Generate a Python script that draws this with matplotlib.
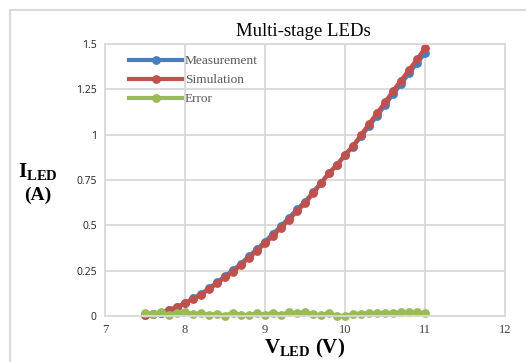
import matplotlib
matplotlib.use("Agg")
import matplotlib.pyplot as plt
from matplotlib.patches import Rectangle

plt.rcParams['mathtext.fontset'] = 'custom'
plt.rcParams['mathtext.rm'] = 'Liberation Serif'
plt.rcParams['mathtext.bf'] = 'Liberation Serif:bold'

voltage = [7.5, 7.6, 7.7, 7.8, 7.9, 8.0, 8.1, 8.2, 8.3, 8.4, 8.5, 8.6,
           8.7, 8.8, 8.9, 9.0, 9.1, 9.2, 9.3, 9.4, 9.5, 9.6, 9.7, 9.8,
           9.9, 10.0, 10.1, 10.2, 10.3, 10.4, 10.5, 10.6, 10.7, 10.8, 10.9, 11.0]

simulation = [0.006, 0.011, 0.018, 0.033, 0.048, 0.070, 0.094, 0.118, 0.147, 0.180,
              0.213, 0.244, 0.281, 0.322, 0.360, 0.400, 0.443, 0.487, 0.531, 0.579,
              0.621, 0.676, 0.732, 0.787, 0.833, 0.888, 0.939, 0.998, 1.059, 1.118,
              1.178, 1.241, 1.298, 1.357, 1.415, 1.476]

measurement = [0.008, 0.012, 0.019, 0.034, 0.050, 0.072, 0.097, 0.122, 0.152, 0.186,
               0.220, 0.252, 0.289, 0.330, 0.369, 0.410, 0.453, 0.496, 0.541, 0.589,
               0.630, 0.682, 0.735, 0.789, 0.834, 0.886, 0.934, 0.990, 1.047, 1.104,
               1.163, 1.224, 1.280, 1.338, 1.396, 1.449]

error = [0.018, 0.011, 0.024, 0.006, 0.018, 0.024, 0.009, 0.015, 0.007, 0.013,
         0.002, 0.018, 0.007, 0.004, 0.015, 0.007, 0.018, 0.007, 0.020, 0.015,
         0.024, 0.009, 0.004, 0.018, 0.000, 0.000, 0.011, 0.013, 0.015, 0.015,
         0.018, 0.017, 0.020, 0.020, 0.020, 0.015]

x_ticks = [7, 8, 9, 10, 11, 12]
y_ticks = [0, 0.25, 0.5, 0.75, 1, 1.25, 1.5]
y_tick_labels = ['0', '0.25', '0.5', '0.75', '1', '1.25', '1.5']

W, H = 526, 362
fig = plt.figure(figsize=(W / 100, H / 100), dpi=100)

# chart-area frame
fig.patches.append(Rectangle((10 / W, -0.1), 1.2, (H - 10) / H + 0.1,
                             transform=fig.transFigure, fill=False,
                             edgecolor='#d9d9d9', linewidth=1.5))

ax = fig.add_axes([105 / W, (H - 316) / H, 400 / W, 272 / H])
grid_c = '#d9d9d9'
ax.set_xlim(7, 12)
ax.set_ylim(0, 1.5)
ax.set_xticks(x_ticks)
ax.set_yticks(y_ticks)
ax.set_yticklabels(y_tick_labels)
ax.grid(True, color=grid_c, linewidth=1.3)
ax.set_axisbelow(True)
for s in ax.spines.values():
    s.set_color(grid_c)
    s.set_linewidth(1.3)
ax.tick_params(length=0, pad=6)
for lab in ax.get_xticklabels():
    lab.set_fontfamily('Liberation Serif')
    lab.set_fontsize(9)
    lab.set_color('#404040')
for lab in ax.get_yticklabels():
    lab.set_fontfamily('Open Sans')
    lab.set_fontsize(7.5)
    lab.set_color('#202020')

style = dict(linewidth=3.0, marker='o', markersize=5.3, clip_on=False)
ax.plot(voltage, measurement, color='#4a7ebb', label='Measurement', **style)
ax.plot(voltage, simulation, color='#c0504d', label='Simulation', **style)
ax.plot(voltage, error, color='#9bbb59', label='Error', **style)

leg = ax.legend(loc='upper left', bbox_to_anchor=(0.06, 0.96), frameon=False,
                prop={'family': 'Liberation Serif', 'size': 9.6},
                handlelength=4.0, handletextpad=0.2, labelspacing=0.5,
                borderaxespad=0, borderpad=0)
for t in leg.get_texts():
    t.set_color('#595959')

fig.text(303 / W, 1 - 31 / H, 'Multi-stage LEDs', ha='center', va='center',
         fontfamily='Liberation Serif', fontsize=13.5, color='#000000')

fig.text(38 / W, 1 - 172 / H, r'$\mathbf{I_{LED}}$', ha='center', va='center',
         fontsize=15)
fig.text(38 / W, 1 - 195 / H, '(A)', ha='center', va='center',
         fontfamily='Liberation Serif', fontweight='bold', fontsize=14)

fig.text(305 / W, 2 / H, r'$\mathbf{V_{LED}}$ (V)', ha='center',
         va='bottom', fontfamily='Liberation Serif', fontweight='bold',
         fontsize=15)

fig.savefig('out.png', dpi=100)
